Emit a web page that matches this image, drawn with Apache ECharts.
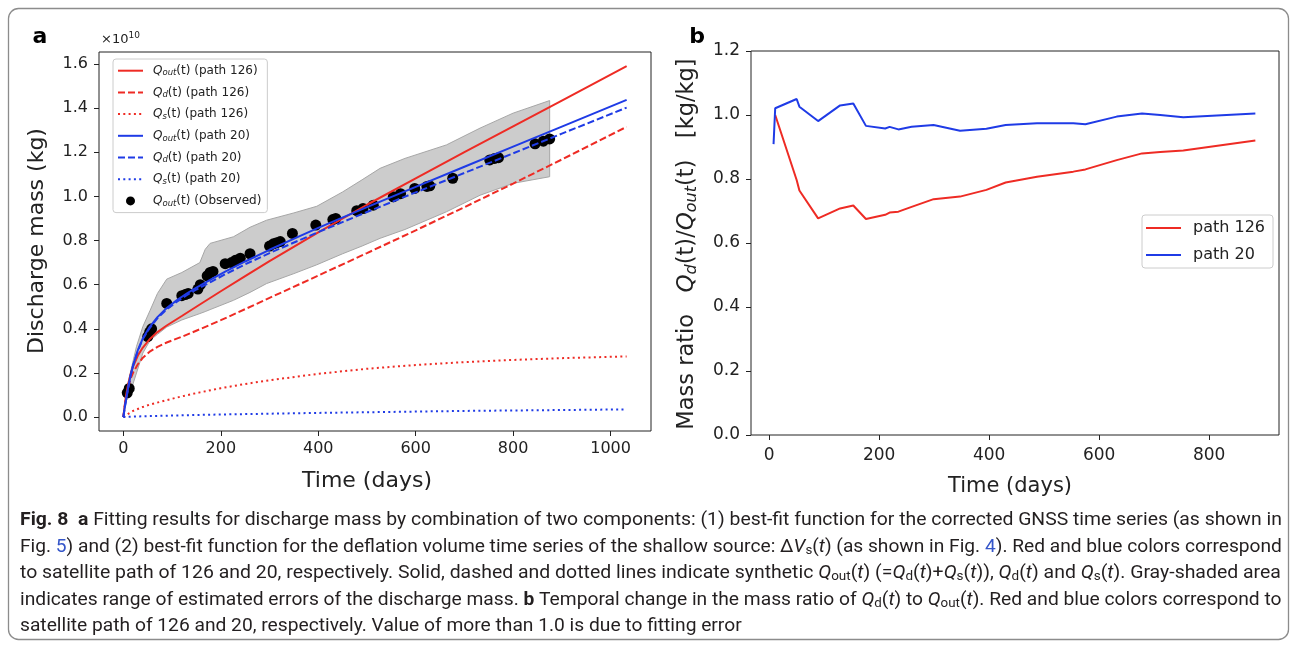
<!DOCTYPE html>
<html>
<head>
<meta charset="utf-8">
<script src="https://cdn.jsdelivr.net/npm/echarts@6/dist/echarts.min.js"></script>
<style>
  html, body { margin: 0; padding: 0; background: #ffffff; }
  #chart { width: 1295px; height: 645px; }
</style>
</head>
<body>
<div id="chart"></div>
<script>
// ---------- Panel a: discharge mass, in units of 1e10 kg, against time (days) ----------
// Synthetic Q_out, Q_d, Q_s for satellite path 126
const fitDays126 = [0, 2, 5, 10, 15, 20, 30, 40, 55, 70, 89, 120, 157, 200, 250, 300, 400, 500, 600, 700, 800, 900, 1033];
const qOut126    = [0, 0.04, 0.09, 0.15, 0.195, 0.23, 0.28, 0.315, 0.355, 0.385, 0.415, 0.458, 0.51, 0.57, 0.639, 0.707, 0.837, 0.962, 1.082, 1.20, 1.317, 1.434, 1.590];
const qD126      = [0, 0.037, 0.082, 0.135, 0.175, 0.202, 0.24, 0.269, 0.298, 0.318, 0.338, 0.364, 0.398, 0.439, 0.489, 0.54, 0.641, 0.743, 0.846, 0.951, 1.058, 1.167, 1.315];
const qsDays126  = [0, 10, 20, 40, 55, 89, 120, 157, 200, 250, 300, 400, 500, 600, 700, 800, 900, 1033];
const qS126      = [0, 0.015, 0.028, 0.046, 0.057, 0.077, 0.094, 0.112, 0.131, 0.15, 0.167, 0.196, 0.219, 0.236, 0.249, 0.259, 0.267, 0.275];

// Synthetic Q_out, Q_d, Q_s for satellite path 20
const fitDays20 = [0, 3, 6, 10, 15, 20, 30, 40, 53, 70, 89, 110, 130, 150, 180, 210, 250, 300, 362, 400, 500, 600, 700, 800, 900, 1033];
const qOut20    = [0, 0.045, 0.085, 0.135, 0.19, 0.235, 0.305, 0.357, 0.405, 0.453, 0.494, 0.53, 0.56, 0.587, 0.624, 0.66, 0.705, 0.758, 0.82, 0.857, 0.951, 1.043, 1.134, 1.225, 1.316, 1.437];
const qD20      = [0, 0.045, 0.084, 0.134, 0.189, 0.233, 0.302, 0.354, 0.40, 0.448, 0.488, 0.523, 0.552, 0.578, 0.613, 0.648, 0.692, 0.743, 0.802, 0.838, 0.929, 1.018, 1.106, 1.195, 1.284, 1.402];
const qsDays20  = [0, 20, 53, 89, 130, 180, 250, 300, 400, 500, 600, 700, 800, 900, 1033];
const qS20      = [0, 0.002, 0.0045, 0.0065, 0.0085, 0.011, 0.0135, 0.0155, 0.019, 0.022, 0.025, 0.028, 0.030, 0.032, 0.035];

// Observed discharge mass
const obsDays = [8, 12, 50, 54, 58, 89, 120, 127, 133, 153, 158, 172, 178, 184, 209, 222, 230, 240, 260, 300, 308, 315, 322, 347, 395, 430, 436, 479, 492, 513, 554, 569, 598, 623, 629, 676, 752, 762, 770, 845, 862, 875];
const obsMass = [0.11, 0.13, 0.365, 0.385, 0.40, 0.515, 0.55, 0.555, 0.56, 0.58, 0.60, 0.64, 0.655, 0.66, 0.695, 0.70, 0.71, 0.72, 0.74, 0.775, 0.785, 0.79, 0.795, 0.832, 0.87, 0.895, 0.90, 0.935, 0.945, 0.96, 0.998, 1.012, 1.036, 1.045, 1.048, 1.082, 1.165, 1.172, 1.175, 1.238, 1.25, 1.26];

// Range of estimated errors of the discharge mass
const bandDays = [5, 11, 27, 40, 55, 70, 89, 120, 157, 168, 178, 226, 260, 294, 350, 397, 450, 490, 527, 578, 663, 732, 800, 875];
const bandHigh = [0.10, 0.17, 0.32, 0.41, 0.484, 0.56, 0.625, 0.655, 0.70, 0.76, 0.787, 0.817, 0.86, 0.892, 0.925, 0.955, 1.02, 1.075, 1.127, 1.172, 1.233, 1.309, 1.377, 1.434];
const bandLow  = [0.07, 0.09, 0.20, 0.29, 0.348, 0.375, 0.408, 0.44, 0.469, 0.478, 0.487, 0.529, 0.565, 0.605, 0.65, 0.69, 0.74, 0.775, 0.81, 0.85, 0.93, 1.005, 1.059, 1.089];

const massTicks = [0, 0.2, 0.4, 0.6, 0.8, 1.0, 1.2, 1.4, 1.6];
const dayTicksA = [0, 200, 400, 600, 800, 1000];

// ---------- Panel b: mass ratio Qd / Qout ----------
const ratioDays = [8, 11, 50, 55, 89, 129, 153, 176, 211, 219, 235, 259, 299, 347, 395, 430, 487, 553, 575, 632, 678, 711, 753, 884];
const ratio126  = [null, 1.0, 0.797, 0.764, 0.677, 0.708, 0.717, 0.675, 0.688, 0.695, 0.698, 0.713, 0.737, 0.745, 0.766, 0.789, 0.807, 0.823, 0.83, 0.859, 0.88, 0.884, 0.889, 0.92];
const ratio20   = [0.909, 1.021, 1.05, 1.026, 0.981, 1.03, 1.036, 0.966, 0.958, 0.963, 0.955, 0.963, 0.969, 0.951, 0.957, 0.969, 0.974, 0.974, 0.971, 0.995, 1.005, 1.0, 0.993, 1.005];
const ratioTicks = [0, 0.2, 0.4, 0.6, 0.8, 1.0, 1.2];
const dayTicksB  = [0, 200, 400, 600, 800];

// ---------- styling ----------
const RED = '#ee2b24';
const BLUE = '#1f3be6';
const INK = '#222222';
const MPL = '"DejaVu Sans", Verdana, sans-serif';
const CAP = 'Roboto, "Open Sans", sans-serif';

function pairs(xs, ys) {
  const out = [];
  xs.forEach((x, i) => { if (ys[i] !== null) out.push([x, ys[i]]); });
  return out;
}

function valueAxis(gridIndex, min, max, ticks, fontSize, margin, fmt) {
  return {
    type: 'value', gridIndex, min, max,
    axisLine: { show: false, onZero: false },
    splitLine: { show: false },
    axisTick: { show: true, length: 5, inside: false, customValues: ticks, lineStyle: { color: INK, width: 1 } },
    axisLabel: {
      customValues: ticks, fontSize, fontFamily: MPL, color: INK, margin,
      formatter: fmt || (v => String(v))
    }
  };
}

function fitLine(name, xs, ys, color, dash) {
  return {
    type: 'line', name, xAxisIndex: 0, yAxisIndex: 0,
    data: pairs(xs, ys), symbol: 'none', smooth: false,
    lineStyle: { color, width: 2, type: dash, cap: 'butt' },
    itemStyle: { color }, z: 4, silent: true
  };
}

const legendNames = {
  Qout126: '{q|Q}{s|out}(t) (path 126)',
  Qd126:   '{q|Q}{s|d}(t) (path 126)',
  Qs126:   '{q|Q}{s|s}(t) (path 126)',
  Qout20:  '{q|Q}{s|out}(t) (path 20)',
  Qd20:    '{q|Q}{s|d}(t) (path 20)',
  Qs20:    '{q|Q}{s|s}(t) (path 20)',
  QoutObs: '{q|Q}{s|out}(t) (Observed)'
};
// line entries in the legend show only the stroke, without a marker
const lineOnly = name => ({ name, itemStyle: { opacity: 0 } });

const DASH = [7, 3];
const DOT = [2, 3.3];

const capRich = {
  b:   { fontFamily: CAP, fontSize: 18, fontWeight: 'bold', fill: '#231f20', color: '#231f20' },
  i:   { fontFamily: CAP, fontSize: 18, fontStyle: 'italic', fill: '#231f20', color: '#231f20' },
  sub: { fontFamily: CAP, fontSize: 12.5, padding: [8, 0, 0, 0], fill: '#231f20', color: '#231f20' },
  lk:  { fontFamily: CAP, fontSize: 18, fill: '#3556c9', color: '#3556c9' }
};
const captionLines = [
  '{b|Fig. 8}  {b|a} Fitting results for discharge mass by combination of two components: (1) best-fit function for the corrected GNSS time series (as shown in',
  'Fig. {lk|5}) and (2) best-fit function for the deflation volume time series of the shallow source: Δ{i|V}{sub|s}({i|t}) (as shown in Fig. {lk|4}). Red and blue colors correspond',
  'to satellite path of 126 and 20, respectively. Solid, dashed and dotted lines indicate synthetic {i|Q}{sub|out}({i|t}) (={i|Q}{sub|d}({i|t})+{i|Q}{sub|s}({i|t})), {i|Q}{sub|d}({i|t}) and {i|Q}{sub|s}({i|t}). Gray-shaded area',
  'indicates range of estimated errors of the discharge mass. {b|b} Temporal change in the mass ratio of {i|Q}{sub|d}({i|t}) to {i|Q}{sub|out}({i|t}). Red and blue colors correspond to',
  'satellite path of 126 and 20, respectively. Value of more than 1.0 is due to fitting error'
];
const captionY = [520, 547, 573, 600, 626];
const captionStretch = [1.076, 1.065, 1.080, 1.068, 1.067];

function textEl(x, y, text, style, extra) {
  return Object.assign({
    type: 'text', x, y, silent: true,
    style: Object.assign({
      text, fill: '#000', align: 'center', verticalAlign: 'middle',
      textAlign: 'center', textVerticalAlign: 'middle'
    }, style)
  }, extra || {});
}

const graphics = [
  { type: 'rect', silent: true, shape: { x: 8.5, y: 8.5, width: 1280, height: 631, r: 10 },
    style: { fill: 'none', stroke: '#8c8c8c', lineWidth: 1.3 } },
  textEl(40, 37, 'a', { fontFamily: MPL, fontSize: 22, fontWeight: 'bold' }),
  textEl(697, 37, 'b', { fontFamily: MPL, fontSize: 22, fontWeight: 'bold' }),
  textEl(101, 40, '×10{sup|10}', {
    fontFamily: MPL, fontSize: 13, fill: INK, align: 'left', textAlign: 'left',
    rich: { sup: { fontFamily: MPL, fontSize: 9, padding: [0, 0, 9, 0], fill: INK } }
  }),
  textEl(37, 241, 'Discharge mass (kg)', { fontFamily: MPL, fontSize: 22, fill: INK }, { rotation: Math.PI / 2 }),
  textEl(367, 481, 'Time (days)', { fontFamily: MPL, fontSize: 22, fill: INK }),
  textEl(687, 244, 'Mass ratio   {q|Q}{s|d}(t)/{q|Q}{s|out}(t)   [kg/kg]', {
    fontFamily: MPL, fontSize: 22.5, fill: INK,
    rich: {
      q: { fontFamily: MPL, fontSize: 23, fontStyle: 'italic', fill: INK },
      s: { fontFamily: MPL, fontSize: 16, fontStyle: 'italic', padding: [9, 0, 0, 0], fill: INK }
    }
  }, { rotation: Math.PI / 2 }),
  textEl(1010, 487, 'Time (days)', { fontFamily: MPL, fontSize: 21, fill: INK })
];
captionLines.forEach((line, i) => {
  graphics.push(textEl(20, captionY[i], line, {
    fontFamily: CAP, fontSize: 18, fill: '#231f20', align: 'left', textAlign: 'left', rich: capRich
  }, { scaleX: captionStretch[i] }));
});

const option = {
  animation: false,
  backgroundColor: '#ffffff',
  grid: [
    { left: 99, top: 52, width: 552, height: 379, show: true, borderColor: INK, borderWidth: 1,
      backgroundColor: 'transparent', containLabel: false, outerBoundsMode: 'none' },
    { left: 751, top: 51, width: 528, height: 384, show: true, borderColor: INK, borderWidth: 1,
      backgroundColor: 'transparent', containLabel: false, outerBoundsMode: 'none' }
  ],
  xAxis: [
    valueAxis(0, -50, 1083, dayTicksA, 16, 10),
    valueAxis(1, -33, 927, dayTicksB, 17, 12)
  ],
  yAxis: [
    valueAxis(0, -0.063, 1.654, massTicks, 16, 11, v => v.toFixed(1)),
    valueAxis(1, 0, 1.2, ratioTicks, 17, 11, v => v.toFixed(1))
  ],
  legend: [
    {
      orient: 'vertical', left: 113, top: 59,
      data: ['Qout126', 'Qd126', 'Qs126', 'Qout20', 'Qd20', 'Qs20'].map(lineOnly).concat(['QoutObs']),
      itemWidth: 25, itemHeight: 9, itemGap: 7.7,
      padding: [4.7, 6, 4.7, 4],
      backgroundColor: 'rgba(255,255,255,0.8)', borderColor: '#cccccc', borderWidth: 1, borderRadius: 3,
      selectedMode: false,
      formatter: name => legendNames[name],
      textStyle: {
        fontFamily: MPL, fontSize: 12, color: INK, lineHeight: 14, padding: [0, 0, 0, 5],
        rich: {
          q: { fontFamily: MPL, fontSize: 12, fontStyle: 'italic', color: INK },
          s: { fontFamily: MPL, fontSize: 8.5, fontStyle: 'italic', color: INK, padding: [5, 0, 0, 0] }
        }
      }
    },
    {
      orient: 'vertical', left: 1142, top: 215,
      data: ['path 126', 'path 20'].map(lineOnly),
      itemWidth: 35, itemHeight: 10, itemGap: 9,
      padding: [4, 8, 4, 3],
      backgroundColor: 'rgba(255,255,255,0.8)', borderColor: '#cccccc', borderWidth: 1, borderRadius: 3,
      selectedMode: false,
      textStyle: { fontFamily: MPL, fontSize: 16, color: INK, lineHeight: 18, padding: [0, 0, 0, 7] }
    }
  ],
  series: [
    {
      type: 'custom', name: 'errorBand', xAxisIndex: 0, yAxisIndex: 0, silent: true, z: 1,
      data: [[bandDays[0], bandLow[0]]],
      renderItem: (params, api) => {
        const pts = [];
        bandDays.forEach((d, i) => pts.push(api.coord([d, bandHigh[i]])));
        for (let i = bandDays.length - 1; i >= 0; i--) pts.push(api.coord([bandDays[i], bandLow[i]]));
        return { type: 'polygon', shape: { points: pts }, style: { fill: '#cccccc', stroke: '#a6a6a6', lineWidth: 1 } };
      }
    },
    {
      type: 'scatter', name: 'QoutObs', xAxisIndex: 0, yAxisIndex: 0,
      data: pairs(obsDays, obsMass), symbol: 'circle', symbolSize: 11,
      itemStyle: { color: '#000000', opacity: 1 }, z: 3, silent: true
    },
    fitLine('Qout126', fitDays126, qOut126, RED, 'solid'),
    fitLine('Qd126', fitDays126, qD126, RED, DASH),
    fitLine('Qs126', qsDays126, qS126, RED, DOT),
    fitLine('Qout20', fitDays20, qOut20, BLUE, 'solid'),
    fitLine('Qd20', fitDays20, qD20, BLUE, DASH),
    fitLine('Qs20', qsDays20, qS20, BLUE, DOT),
    {
      type: 'line', name: 'path 126', xAxisIndex: 1, yAxisIndex: 1,
      data: pairs(ratioDays, ratio126), symbol: 'none',
      lineStyle: { color: RED, width: 2 }, itemStyle: { color: RED }, silent: true
    },
    {
      type: 'line', name: 'path 20', xAxisIndex: 1, yAxisIndex: 1,
      data: pairs(ratioDays, ratio20), symbol: 'none',
      lineStyle: { color: BLUE, width: 2 }, itemStyle: { color: BLUE }, silent: true
    }
  ],
  graphic: { elements: graphics }
};

const chart = echarts.init(document.getElementById('chart'), null, { renderer: 'canvas' });
chart.setOption(option);
</script>
</body>
</html>
